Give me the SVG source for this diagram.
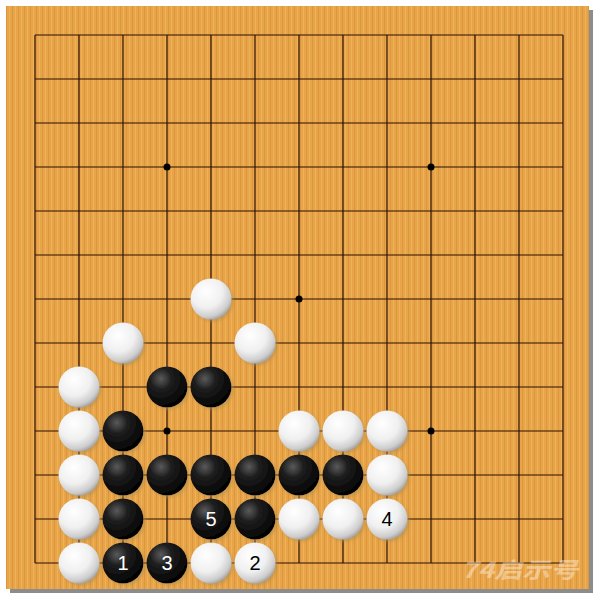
<svg xmlns="http://www.w3.org/2000/svg" width="600" height="600" viewBox="0 0 600 600">
<defs>
<pattern id="wood" width="6" height="10" patternUnits="userSpaceOnUse">
<rect width="6" height="10" fill="#E8A448"/>
<rect x="0" width="1" height="10" fill="#DC963C"/>
<rect x="3" width="1" height="10" fill="#EFB158"/>
</pattern>
<radialGradient id="gw" cx="0.38" cy="0.32" r="0.72">
<stop offset="0" stop-color="#ffffff"/>
<stop offset="0.55" stop-color="#f0f0f0"/>
<stop offset="0.85" stop-color="#cdcdcd"/>
<stop offset="1" stop-color="#a0a0a0"/>
</radialGradient>
<radialGradient id="gb" cx="0.35" cy="0.3" r="0.75">
<stop offset="0" stop-color="#5a5a5a"/>
<stop offset="0.35" stop-color="#1e1e1e"/>
<stop offset="1" stop-color="#000000"/>
</radialGradient>
<filter id="sh" x="-30%" y="-30%" width="160%" height="160%">
<feGaussianBlur in="SourceAlpha" stdDeviation="1.5"/>
<feOffset dx="2" dy="2" result="o"/>
<feColorMatrix type="matrix" values="0 0 0 0 0.45 0 0 0 0 0.28 0 0 0 0 0.08 0 0 0 0.6 0"/>
<feMerge><feMergeNode/><feMergeNode in="SourceGraphic"/></feMerge>
</filter>
</defs>
<style>
.grid line{stroke:#2a0f05;stroke-width:1.2}
.w{fill:url(#gw);filter:url(#sh)}
.b{fill:url(#gb);filter:url(#sh)}
.n{font-family:"Liberation Sans",Arial,sans-serif;font-size:20px;text-anchor:middle}
.nw{fill:#ffffff}
.nb{fill:#000000}
</style>
<rect width="600" height="600" fill="#ffffff"/>
<rect x="10" y="10" width="583" height="583" fill="#8c8c8c"/>
<rect x="6" y="6" width="583" height="583" fill="url(#wood)"/>
<g class="grid" id="grid">
<line x1="35" y1="35" x2="35" y2="563"/><line x1="79" y1="35" x2="79" y2="563"/><line x1="123" y1="35" x2="123" y2="563"/><line x1="167" y1="35" x2="167" y2="563"/><line x1="211" y1="35" x2="211" y2="563"/><line x1="255" y1="35" x2="255" y2="563"/><line x1="299" y1="35" x2="299" y2="563"/><line x1="343" y1="35" x2="343" y2="563"/><line x1="387" y1="35" x2="387" y2="563"/><line x1="431" y1="35" x2="431" y2="563"/><line x1="475" y1="35" x2="475" y2="563"/><line x1="519" y1="35" x2="519" y2="563"/><line x1="563" y1="35" x2="563" y2="563"/>
<line x1="35" y1="35" x2="563" y2="35"/><line x1="35" y1="79" x2="563" y2="79"/><line x1="35" y1="123" x2="563" y2="123"/><line x1="35" y1="167" x2="563" y2="167"/><line x1="35" y1="211" x2="563" y2="211"/><line x1="35" y1="255" x2="563" y2="255"/><line x1="35" y1="299" x2="563" y2="299"/><line x1="35" y1="343" x2="563" y2="343"/><line x1="35" y1="387" x2="563" y2="387"/><line x1="35" y1="431" x2="563" y2="431"/><line x1="35" y1="475" x2="563" y2="475"/><line x1="35" y1="519" x2="563" y2="519"/><line x1="35" y1="563" x2="563" y2="563"/>
</g>
<g id="stars" fill="#000">
<circle cx="167" cy="167" r="3.5"/><circle cx="431" cy="167" r="3.5"/><circle cx="299" cy="299" r="3.5"/><circle cx="167" cy="431" r="3.5"/><circle cx="431" cy="431" r="3.5"/>
</g>
<g id="white-stones">
<circle class="w" cx="211" cy="299" r="20.5"/>
<circle class="w" cx="123" cy="343" r="20.5"/>
<circle class="w" cx="255" cy="343" r="20.5"/>
<circle class="w" cx="79" cy="387" r="20.5"/>
<circle class="w" cx="79" cy="431" r="20.5"/>
<circle class="w" cx="299" cy="431" r="20.5"/>
<circle class="w" cx="343" cy="431" r="20.5"/>
<circle class="w" cx="387" cy="431" r="20.5"/>
<circle class="w" cx="79" cy="475" r="20.5"/>
<circle class="w" cx="387" cy="475" r="20.5"/>
<circle class="w" cx="79" cy="519" r="20.5"/>
<circle class="w" cx="299" cy="519" r="20.5"/>
<circle class="w" cx="343" cy="519" r="20.5"/>
<circle class="w" cx="79" cy="563" r="20.5"/>
<circle class="w" cx="211" cy="563" r="20.5"/>
</g>
<g id="black-stones">
<circle class="b" cx="167" cy="387" r="20.5"/>
<circle class="b" cx="211" cy="387" r="20.5"/>
<circle class="b" cx="123" cy="431" r="20.5"/>
<circle class="b" cx="123" cy="475" r="20.5"/>
<circle class="b" cx="167" cy="475" r="20.5"/>
<circle class="b" cx="211" cy="475" r="20.5"/>
<circle class="b" cx="255" cy="475" r="20.5"/>
<circle class="b" cx="299" cy="475" r="20.5"/>
<circle class="b" cx="343" cy="475" r="20.5"/>
<circle class="b" cx="123" cy="519" r="20.5"/>
<circle class="b" cx="255" cy="519" r="20.5"/>
</g>
<g id="move-1"><circle class="b" cx="123" cy="563" r="20.5"/><text class="n nw" x="123" y="570">1</text></g>
<g id="move-2"><circle class="w" cx="255" cy="563" r="20.5"/><text class="n nb" x="255" y="570">2</text></g>
<g id="move-3"><circle class="b" cx="167" cy="563" r="20.5"/><text class="n nw" x="167" y="570">3</text></g>
<g id="move-4"><circle class="w" cx="387" cy="519" r="20.5"/><text class="n nb" x="387" y="526">4</text></g>
<g id="move-5"><circle class="b" cx="211" cy="519" r="20.5"/><text class="n nw" x="211" y="526">5</text></g>
<text x="461" y="578" font-family="'Noto Sans CJK SC',sans-serif" font-size="22" font-weight="bold" font-style="italic" fill="#ffffff" fill-opacity="0.4" textLength="117" lengthAdjust="spacingAndGlyphs">74启示号</text>
</svg>
